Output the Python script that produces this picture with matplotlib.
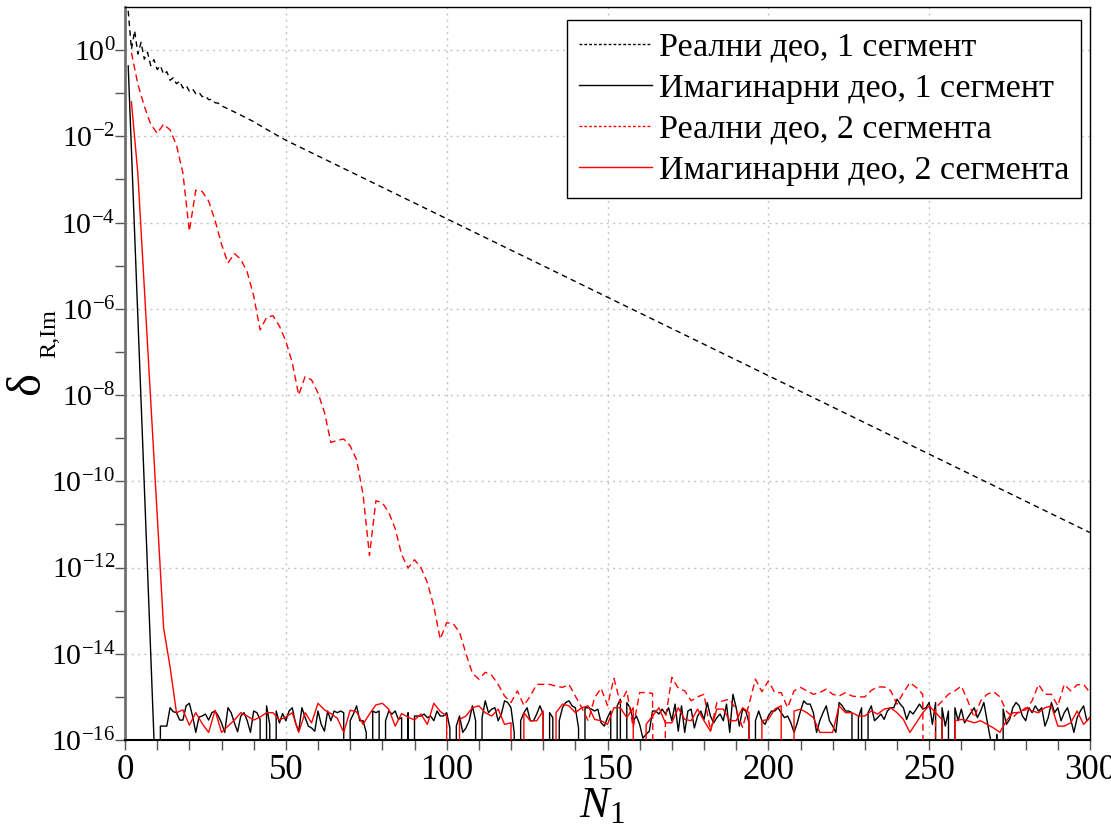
import numpy as np
import matplotlib
matplotlib.use("Agg")
import matplotlib.pyplot as plt
from matplotlib.lines import Line2D
from matplotlib.ticker import FixedLocator, FuncFormatter, NullFormatter, MultipleLocator

plt.rcParams['font.family'] = ['Liberation Serif', 'DejaVu Serif']
plt.rcParams['mathtext.fontset'] = 'custom'
plt.rcParams['mathtext.rm'] = 'Liberation Serif'
plt.rcParams['mathtext.it'] = 'Liberation Serif:italic'
plt.rcParams['mathtext.bf'] = 'Liberation Serif:bold'

# ---------------- data ----------------
labels = ["Реални део, 1 сегмент", "Имагинарни део, 1 сегмент",
          "Реални део, 2 сегмента", "Имагинарни део, 2 сегмента"]

# Real part, 1 segment (log10 of error)
re1_N = list(range(1, 31)) + [35, 40, 45, 50, 75, 100, 125, 150, 175, 200, 225, 250, 275, 300]
re1_log = [0.91, 0.02, 0.45, -0.09, 0.18, -0.21, -0.05, -0.36, -0.22, -0.45,
           -0.36, -0.56, -0.50, -0.70, -0.64, -0.78, -0.72, -0.88, -0.82, -0.95,
           -0.90, -1.01, -0.98, -1.08, -1.06, -1.15, -1.14, -1.22, -1.23, -1.29,
           -1.47, -1.66, -1.88, -2.09, -3.00, -3.91, -4.82, -5.73, -6.64, -7.55,
           -8.46, -9.37, -10.28, -11.19]

# Imaginary part, 1 segment: N = 1..9 (values), then N = 10..300 in units of 1e-16
im1_head = [4.3e-1, 5e-3, 5.6e-5, 6.3e-7, 7e-9, 8e-11, 9e-13, 1e-14, 1.1e-16]
im1_tail_units = [
    0, 2.1, 2.1, 2.1,
    5.6, 4.55, 4.3, 2.9, 2.9, 6.2, 7.1, 3.6, 1.5, 3.4,
    3.6, 4.0, 2.9, 4.3, 4.7, 3.6, 2.5, 1.5, 5.6, 4.3,
    2.5, 1.55, 3.6, 4.3, 2.8, 1.5, 4.7, 4.3, 3.0, 0,
    6.2, 2.3, 0, 4.7, 2.5, 4.1, 2.8, 4.7, 5.6, 2.5,
    1.6, 5.6, 3.3, 2.1, 1.9, 1.6, 4.7, 2.3, 1.6, 4.7,
    2.8, 4.7, 4.3, 4.7, 4.3, 0, 2.8, 4.0, 6.2, 2.8,
    2.8, 1.5, 0, 4.7, 4.3, 4.7, 0, 2.8, 4.7, 4.0,
    4.7, 3.0, 3.3, 0, 4.3, 0, 3.6, 3.6, 3.6, 4.0,
    3.3, 3.6, 2.8, 4.7,
    3.6, 3.6, 4.3, 1.9, 0, 2.1, 3.6, 1.5, 1.9, 2.8,
    6.2, 2.8, 0, 3.3, 8.1, 4.3, 5.2, 5.6, 2.8, 4.0,
    8.1, 7.4, 5.6, 1.5, 0, 2.8, 4.3, 5.6, 2.8, 2.8,
    4.0, 6.2, 4.0, 0, 4.3, 3.3, 0, 2.8, 5.6, 7.4,
    8.1, 6.2, 5.6, 1.9, 0, 5.6, 5.6, 5.2, 4.7, 5.2,
    2.5, 2.1, 3.3, 4.7, 0, 6.2, 8.8, 0, 7.4, 5.6,
    2.8, 3.6, 2.3, 1.1, 1.35, 1.6, 4.7, 4.7, 4.0, 5.2,
    4.0, 5.6, 2.8, 6.8, 1.6, 6.2, 1.5, 4.7, 5.2, 1.9,
    3.6, 4.7, 3.0, 7.4, 3.6, 2.5, 3.3, 4.0, 2.8, 6.8,
    1.5, 11.5, 5.6, 2.1, 5.2, 4.7, 2.5, 0, 2.8, 4.7,
    2.8, 2.3, 3.6,
    4.7, 4.7, 5.6, 4.3, 3.3, 3.6, 2.5,
    1.5, 2.5, 4.7, 8.1, 6.8, 6.8, 4.3, 1.5, 2.8, 4.3,
    6.2, 2.8, 2.1, 1.5, 7.4, 6.2, 4.7, 4.7, 4.3, 0,
    3.3, 5.6, 0, 4.3, 6.2, 2.8, 3.3, 4.0, 3.0, 4.7,
    5.6, 5.6, 8.8, 6.8, 5.6, 3.0, 4.7, 4.0, 5.2, 6.8,
    5.2, 5.6, 7.4, 2.3, 7.4, 0, 5.6, 2.1, 4.7, 0,
    5.6, 2.8, 5.2, 2.5, 3.3, 4.3, 5.6, 3.3, 4.7, 7.4,
    2.8, 1.1, 0, 1.35, 0, 5.2, 2.3, 3.0, 5.6, 7.4,
    6.2, 3.6, 2.8, 5.6, 4.3, 6.2, 4.7, 5.6, 2.1, 3.3,
    7.4, 4.3, 5.6, 2.8, 4.3, 5.6, 3.0, 1.5, 3.3, 4.7,
    6.2, 2.8, 3.3]

# Real part, 2 segments: N = 2, 4, ..., 300 (log10; -40 marks an exact zero)
re2_log = [
    -0.06, -0.79, -1.30, -1.72, -1.93, -1.72, -1.85, -2.20, -2.85, -4.20,
    -3.25, -3.28, -3.50, -3.95, -4.50, -4.94, -4.72, -4.85, -5.15, -5.70,
    -6.49, -6.20, -6.16, -6.40, -6.75, -7.25, -8.00, -7.57, -7.65, -7.95,
    -8.40, -9.10, -9.05, -9.02, -9.18, -9.50, -10.30, -11.72, -10.45, -10.50,
    -10.72, -11.10, -11.70, -12.01, -11.82, -12.00, -12.35, -12.90, -13.66, -13.28,
    -13.30, -13.50, -14.00, -14.45, -14.59, -14.43, -14.50, -14.71, -14.98, -15.13,
    -14.86, -15.20, -14.98, -14.71, -14.71, -14.71, -14.75, -14.78, -14.71, -14.98,
    -15.25, -15.56, -15.02, -14.80, -15.20, -14.57, -15.15, -14.86, -15.71, -14.90,
    -14.90, -14.92, -40, -15.50, -14.55, -14.80, -14.86, -15.09, -15.00, -14.94,
    -15.79, -15.13, -15.09, -15.05, -15.30, -15.71, -15.17, -14.59, -14.88, -14.63,
    -14.90, -14.90, -15.25, -14.86, -14.78, -14.86, -14.94, -14.90, -14.82, -14.94,
    -14.98, -14.90, -14.98, -15.00, -15.00, -14.85, -14.77, -14.77, -14.85, -15.17,
    -14.90, -14.67, -14.78, -14.94, -40, -15.25, -15.10, -14.94, -14.86, -14.75,
    -15.09, -15.48, -15.09, -14.94, -14.88, -15.00, -15.33, -15.48, -15.33, -15.30,
    -15.09, -14.71, -14.94, -14.94, -15.21, -14.71, -14.86, -14.72, -14.71, -14.90]

# Imaginary part, 2 segments: N = 2..14 (log10), then N = 16..300 in units of 1e-16
im2_head_log = [-1.20, -2.87, -5.50, -8.10, -10.80, -13.40, -14.30]
im2_tail_units = [
    4.3, 5.0, 2.2, 4.3, 2.4, 1.5, 4.9, 1.5, 2.1, 2.9,
    4.3, 3.6, 2.9, 3.4, 4.3, 4.3, 2.9, 3.4, 4.3, 1.5,
    4.3, 2.5, 7.1, 5.0, 4.1, 3.2, 1.5, 4.9, 4.5, 2.3,
    4.0, 6.5, 7.1, 5.2, 2.1, 4.1, 3.4, 2.9, 4.0, 2.3,
    7.1, 4.6, 3.6,
    0, 3.0, 3.6, 5.6, 6.2, 4.3, 3.6, 5.2, 2.3, 2.5,
    0, 4.3, 2.8, 2.8, 4.7, 0, 4.3, 6.8, 6.2, 4.3,
    5.6, 6.2, 3.0, 2.8, 2.3, 5.6, 5.6, 3.3, 5.6, 0,
    2.3, 3.6, 5.6, 2.5, 2.5, 5.6, 3.0, 2.8, 5.2, 2.8,
    1.6, 5.2, 5.2, 2.8, 2.8, 5.6, 4.3, 0, 2.8, 3.0,
    5.2, 6.2, 0, 4.7, 5.2, 4.3, 3.3, 1.5, 1.5, 1.5,
    6.2, 4.3, 4.3, 3.6, 3.6, 4.7, 4.0, 5.2, 5.6, 4.3,
    3.0, 1.5, 2.5, 4.3, 6.2, 4.3, 3.0, 0, 2.8, 3.0,
    2.8, 2.5, 2.8, 2.3, 1.9, 1.5, 2.8, 4.3, 4.3, 5.6,
    4.7, 4.3, 5.6, 6.2, 2.1, 2.1, 2.5, 4.7, 2.3, 3.3]

# ---------------- assemble ----------------
N_all = np.arange(1, 301)
im1 = np.concatenate([im1_head, np.array(im1_tail_units) * 1e-16])
N_even = np.arange(2, 301, 2)
re2 = 10.0 ** np.array(re2_log)
im2 = np.concatenate([10.0 ** np.array(im2_head_log), np.array(im2_tail_units) * 1e-16])
re1 = 10.0 ** np.array(re1_log)

# ---------------- figure ----------------
fig = plt.figure(figsize=(11.11, 8.26), dpi=100)
ax = fig.add_axes([125 / 1111, 1 - 740 / 826, 965 / 1111, 733 / 826])

ax.plot(re1_N, re1, color='black', lw=1.0, dashes=(4, 3), zorder=3)
ax.plot(N_all, im1, color='black', lw=1.0, zorder=3)
ax.plot(N_even, re2, color='red', lw=1.0, dashes=(5, 3), zorder=3)
ax.plot(N_even, im2, color='red', lw=1.0, zorder=3)

ax.set_yscale('log', nonpositive='clip')
ax.set_xlim(0, 300)
ax.set_ylim(1e-16, 1e1)

ax.yaxis.set_major_locator(FixedLocator([10.0 ** k for k in range(-16, 1, 2)]))
ax.yaxis.set_minor_locator(FixedLocator([10.0 ** k for k in range(-15, 1, 2)]))
ax.yaxis.set_major_formatter(FuncFormatter(lambda v, p: r'$10^{%d}$' % int(round(np.log10(v)))))
ax.yaxis.set_minor_formatter(NullFormatter())
ax.xaxis.set_major_locator(MultipleLocator(50))
ax.xaxis.set_minor_locator(MultipleLocator(10))

ax.tick_params(which='both', direction='out', length=7, width=1, color='#555555')
ax.tick_params(axis='y', labelsize=21.5, pad=0)
ax.tick_params(axis='x', labelsize=25, pad=3)

ax.grid(True, which='major', color='#c4c4c4', linestyle=(0, (1.5, 3)), linewidth=1.0)

ax.spines['left'].set_color('#707070')
ax.spines['left'].set_linewidth(2.0)
ax.spines['bottom'].set_color('black')
ax.spines['bottom'].set_linewidth(1.5)
ax.spines['right'].set_linewidth(1.0)
ax.spines['top'].set_linewidth(1.0)

handles = [Line2D([], [], color='black', lw=1.0, dashes=(2, 1.5)),
           Line2D([], [], color='black', lw=1.0),
           Line2D([], [], color='red', lw=1.0, dashes=(2, 1.5)),
           Line2D([], [], color='red', lw=1.0)]
leg = ax.legend(handles, labels, loc='upper right', bbox_to_anchor=(0.9907, 0.982),
                borderaxespad=0, fontsize=24.5, frameon=True, fancybox=False,
                edgecolor='black', framealpha=1, handlelength=2.15,
                handletextpad=0.2, labelspacing=0.3, borderpad=0.35)
leg.get_frame().set_linewidth(1.0)

fig.text(27 / 1111, 1 - 383 / 826, 'δ', rotation=90, fontsize=35, ha='center', va='center')
fig.text(50 / 1111, 1 - 333 / 826, 'R,Im', rotation=90, fontsize=17.5, ha='center', va='center')
fig.text(602 / 1111, 1 - 806 / 826, r'$N_1$', fontsize=32, ha='center', va='center')

fig.savefig('out.png', dpi=100)
